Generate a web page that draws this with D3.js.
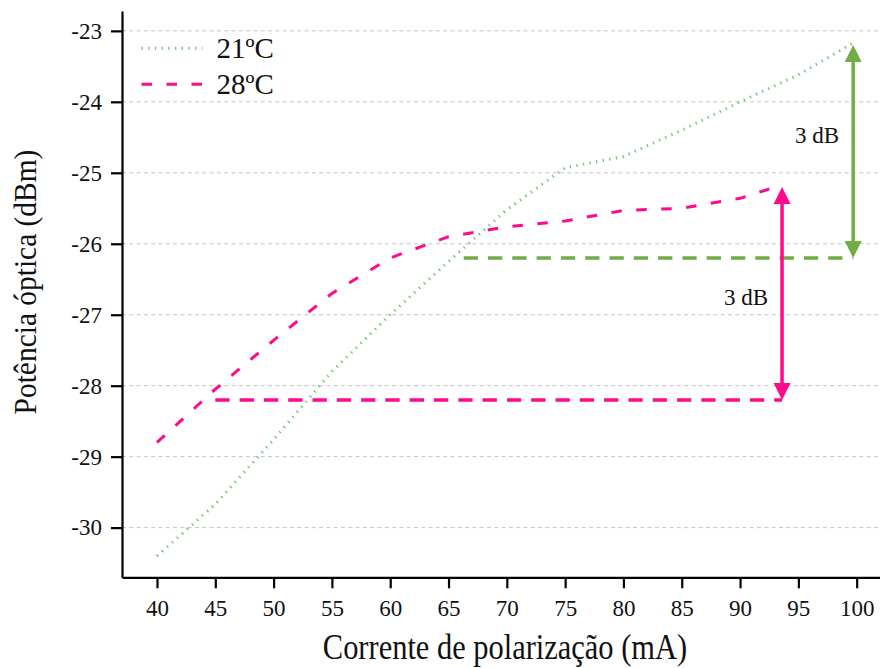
<!DOCTYPE html>
<html>
<head>
<meta charset="utf-8">
<script src="https://cdn.jsdelivr.net/npm/d3@7"></script>
<style>
  html, body { margin: 0; padding: 0; background: #fff; }
  svg { display: block; font-family: "Liberation Serif", "Times New Roman", serif; }
</style>
</head>
<body>
<svg id="chart" width="880" height="668"></svg>
<script>
// Bias current (mA) and optical power (dBm) at two temperatures
const current21 = [40, 45, 50, 55, 60, 65, 70, 75, 80, 85, 90, 95, 99.6];
const power21   = [-30.4, -29.67, -28.76, -27.8, -27.0, -26.25, -25.52, -24.93, -24.77, -24.4, -24.0, -23.62, -23.18];

const current28 = [40, 45, 50, 55, 60, 65, 70, 75, 80, 85, 90, 93.6];
const power28   = [-28.8, -28.05, -27.36, -26.7, -26.2, -25.9, -25.76, -25.68, -25.53, -25.5, -25.36, -25.17];

const xTicks = [40, 45, 50, 55, 60, 65, 70, 75, 80, 85, 90, 95, 100];
const yTicks = [-23, -24, -25, -26, -27, -28, -29, -30];

const seriesNames = ["21ºC", "28ºC"];

// 3 dB reference levels: [x start, x end (arrow position), base level]
const ref21 = [66.3, 99.7, -26.2];
const ref28 = [45, 93.6, -28.2];
const dropDb = 3;

const GREEN = "#70ad47";
const GREEN_DOT = "#62bb62";
const PINK = "#ff0a8a";

const svg = d3.select("#chart");

const x = d3.scaleLinear().domain([37, 102]).range([122, 880]);
const y = d3.scaleLinear().domain([-30.7, -22.72]).range([577.3, 11]);

// horizontal grid
svg.append("g")
  .selectAll("line")
  .data(yTicks)
  .join("line")
  .attr("x1", x(37)).attr("x2", 880)
  .attr("y1", d => y(d)).attr("y2", d => y(d))
  .attr("stroke", "#c4c4c4")
  .attr("stroke-width", 1)
  .attr("stroke-dasharray", "4 3.3");

// axes
const xAxis = svg.append("g")
  .attr("transform", `translate(0,${y(-30.7)})`)
  .call(d3.axisBottom(x).tickValues(xTicks).tickSize(11).tickSizeOuter(0).tickPadding(11));
const yAxis = svg.append("g")
  .attr("transform", `translate(${x(37)},0)`)
  .call(d3.axisLeft(y).tickValues(yTicks).tickSize(11).tickSizeOuter(0).tickPadding(9)
    .tickFormat(d => String(d)));

[xAxis, yAxis].forEach(g => {
  g.select(".domain").attr("stroke", "#000").attr("stroke-width", 2.2);
  g.selectAll(".tick line").attr("stroke", "#000").attr("stroke-width", 2.2);
  g.selectAll(".tick text")
    .attr("fill", "#111")
    .style("font-family", "'Liberation Serif', 'Times New Roman', serif")
    .style("font-size", "23px");
});

// series lines
const line = d3.line().x(d => x(d[0])).y(d => y(d[1]));
const data21 = current21.map((c, i) => [c, power21[i]]);
const data28 = current28.map((c, i) => [c, power28[i]]);

svg.append("path")
  .datum(data21)
  .attr("d", line)
  .attr("fill", "none")
  .attr("stroke", GREEN_DOT)
  .attr("stroke-opacity", 0.9)
  .attr("stroke-width", 3)
  .attr("stroke-dasharray", "1.3 5.4");

svg.append("path")
  .datum(data28)
  .attr("d", line)
  .attr("fill", "none")
  .attr("stroke", PINK)
  .attr("stroke-width", 3)
  .attr("stroke-dasharray", "10.5 14.5");

// reference levels
function refLevel(ref, color) {
  svg.append("line")
    .attr("x1", x(ref[0])).attr("x2", x(ref[1]))
    .attr("y1", y(ref[2])).attr("y2", y(ref[2]))
    .attr("stroke", color)
    .attr("stroke-width", 3.5)
    .attr("stroke-dasharray", "14.3 10");
}
refLevel(ref21, GREEN);
refLevel(ref28, PINK);

// double-headed arrows spanning the 3 dB difference
function arrow(ref, color, labelShift) {
  const ax = x(ref[1]);
  const yLow = y(ref[2]);
  const yHigh = y(ref[2] + dropDb);
  const head = 17, half = 8.5;
  const g = svg.append("g");
  g.append("line")
    .attr("x1", ax).attr("x2", ax)
    .attr("y1", yHigh + head - 2).attr("y2", yLow - head + 2)
    .attr("stroke", color).attr("stroke-width", 3.5);
  g.append("path")
    .attr("d", `M${ax},${yHigh} L${ax - half},${yHigh + head} L${ax + half},${yHigh + head} Z`)
    .attr("fill", color);
  g.append("path")
    .attr("d", `M${ax},${yLow} L${ax - half},${yLow - head} L${ax + half},${yLow - head} Z`)
    .attr("fill", color);
  g.append("text")
    .attr("x", ax - 14)
    .attr("y", (yHigh + yLow) / 2 + labelShift)
    .attr("text-anchor", "end")
    .attr("fill", "#111")
    .style("font-size", "23px")
    .text(dropDb + " dB");
}
arrow(ref21, GREEN, -9);
arrow(ref28, PINK, 12);

// legend
const legend = svg.append("g");
const legendItems = [
  { name: seriesNames[0], color: GREEN_DOT, dash: "1.3 5.4", width: 3, opacity: 0.9, y: 48.3 },
  { name: seriesNames[1], color: PINK, dash: "10.5 14.5", width: 3, opacity: 1, y: 84.3 }
];
legendItems.forEach(it => {
  legend.append("line")
    .attr("x1", 141.5).attr("x2", 202.5)
    .attr("y1", it.y).attr("y2", it.y)
    .attr("stroke", it.color)
    .attr("stroke-opacity", it.opacity)
    .attr("stroke-width", it.width)
    .attr("stroke-dasharray", it.dash);
  legend.append("text")
    .attr("x", 216.5)
    .attr("y", it.y + 9.5)
    .attr("fill", "#111")
    .style("font-size", "29px")
    .text(it.name);
});

// axis titles
svg.append("text")
  .attr("transform", "translate(505,659) scale(0.87,1)")
  .attr("text-anchor", "middle")
  .attr("fill", "#111")
  .style("font-size", "35px")
  .text("Corrente de polarização (mA)");

svg.append("text")
  .attr("transform", "translate(36,282) rotate(-90) scale(0.92,1)")
  .attr("text-anchor", "middle")
  .attr("fill", "#111")
  .style("font-size", "32px")
  .text("Potência óptica (dBm)");
</script>
</body>
</html>
